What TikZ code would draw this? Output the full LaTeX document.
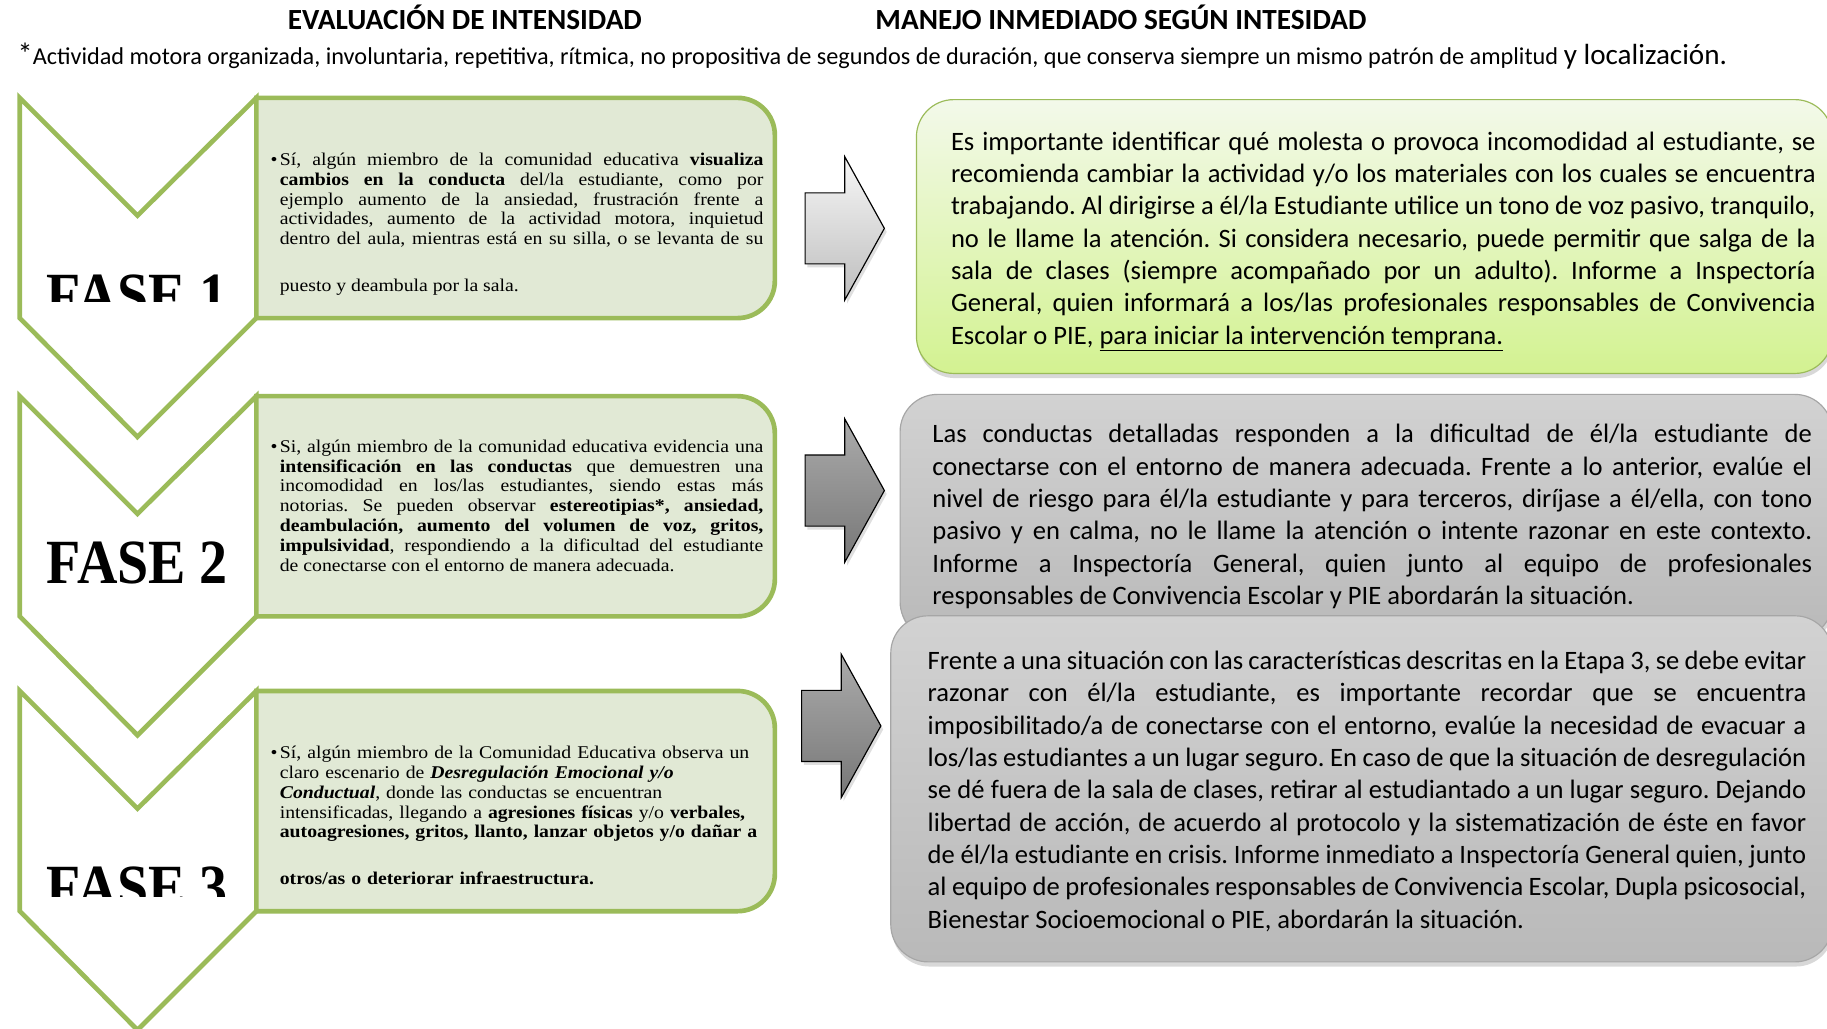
\documentclass[tikz,border=0pt]{standalone}
\usepackage{fontspec}
\usepackage{xcolor}
\usepackage{tikz}
\usetikzlibrary{shadows}
\newfontfamily\manejofont{Carlito}
\newfontfamily\evalfont[FakeStretch=1.1]{Liberation Serif}
\newfontfamily\fasefont[FakeStretch=0.89]{Liberation Serif}
\definecolor{fasegreen}{HTML}{9BBB59}
\definecolor{fasefill}{HTML}{E1E9D5}
\definecolor{verdeclaro}{HTML}{F3F9EA}
\definecolor{verdelima}{HTML}{D3F291}
\definecolor{grisborde}{HTML}{A6A6A6}
\definecolor{grisalto}{HTML}{D2D2D2}
\definecolor{grisbajo}{HTML}{B9B9B9}
\definecolor{flechaclara}{HTML}{F7F7F7}
\definecolor{flechaclarab}{HTML}{BDBDBD}
\definecolor{flechaoscura}{HTML}{ABABAB}
\definecolor{flechaoscurab}{HTML}{777777}
\hyphenpenalty=10000
\exhyphenpenalty=10000
\tolerance=9999
\frenchspacing

\tikzset{
  chevron/.style={draw=fasegreen, line width=4pt, fill=white},
  evalbox/.style={draw=fasegreen, line width=4pt, fill=fasefill},
  evaltext/.style={anchor=north west, inner sep=0pt, text width=423pt, font=\evalfont\fontsize{15.4}{17}\selectfont},
  fasetext/.style={anchor=base, inner sep=0pt, font=\fasefont\bfseries\fontsize{54}{54}\selectfont},
  manejobox/.style={rectangle, anchor=north west, inner sep=0pt, rounded corners=32pt, line width=1pt, drop shadow={shadow xshift=1pt, shadow yshift=-4pt, opacity=.3}},
  manejotext/.style={anchor=west, inner sep=0pt, align=justify, font=\manejofont\fontsize{22.8}{27.75}\selectfont},
  flecha/.style={draw=black, line width=1pt, drop shadow={shadow xshift=2pt, shadow yshift=-3pt, opacity=.25}},
  titulo/.style={anchor=base, inner sep=0pt, font=\manejofont\bfseries\fontsize{25.1}{27}\selectfont}
}
\newcommand{\vineta}{\leftskip=8pt\noindent\hspace*{-8pt}\makebox[8pt][l]{\textbullet}\strut}

\begin{document}
\begin{tikzpicture}[x=1pt, y=-1pt]
  \useasboundingbox (0,0) rectangle (1568,883);
  \fill[white] (0,0) rectangle (1568,883);

  % Títulos y nota
  \node[titulo] (evaluacion) at (399,25) {EVALUACIÓN DE INTENSIDAD};
  \node[titulo] (manejo) at (962,25) {MANEJO INMEDIADO SEGÚN INTESIDAD};
  \node[anchor=base west, inner sep=0pt, font=\manejofont\fontsize{20.8}{22}\selectfont] (nota) at (15,55.5)
    {{\fontsize{26}{26}\selectfont *}Actividad motora organizada, involuntaria, repetitiva, rítmica, no propositiva de segundos de duración, que conserva siempre un mismo patrón de amplitud {\fontsize{25}{25}\selectfont y localización.}};

  % Fases: chevron, recuadro verde y etiqueta
  \foreach \t/\b/\c [count=\i] in {84/272/259, 340/501/560, 593/780/769} {
    \draw[chevron] (17,\t) -- (118,\t+101) -- (220,\t) -- (220,\t+189) -- (118,\t+291) -- (17,\t+189) -- cycle;
    \draw[evalbox] (220,\t) -- (633,\t) .. controls (650.7,\t) and (665,\t+14.3) .. (665,\t+32)
      -- (665,\t+157) .. controls (665,\t+174.7) and (650.7,\t+189) .. (633,\t+189) -- (220,\t+189) -- cycle;
    \begin{scope}
      \clip (17,\t) rectangle (220,\c);
      \node[fasetext] (fase\i) at (118,\b) {FASE \i};
    \end{scope}
  }

  % Textos de evaluación
  \node[evaltext, align=justify] (eval1) at (232,130)
    {\vineta Sí, algún miembro de la comunidad educativa \textbf{visualiza}\linebreak
     \textbf{cambios en la conducta} del/la estudiante, como por\linebreak
     ejemplo aumento de la ansiedad, frustración frente a\linebreak
     actividades, aumento de la actividad motora, inquietud\linebreak
     dentro del aula, mientras está en su silla, o se levanta de su\vspace{23pt}\linebreak
     puesto y deambula por la sala.\par};
  \node[evaltext, align=justify] (eval2) at (232,376)
    {\vineta Si, algún miembro de la comunidad educativa evidencia una\linebreak
     \textbf{intensificación en las conductas} que demuestren una\linebreak
     incomodidad en los/las estudiantes, siendo estas más\linebreak
     notorias. Se pueden observar \textbf{estereotipias*, ansiedad,}\linebreak
     \textbf{deambulación, aumento del volumen de voz, gritos,}\linebreak
     \textbf{impulsividad}, respondiendo a la dificultad del estudiante\linebreak
     de conectarse con el entorno de manera adecuada.\par};
  \node[evaltext, align=left] (eval3) at (232,639)
    {\vineta Sí, algún miembro de la Comunidad Educativa observa un\\
     claro escenario de \textbf{\textit{Desregulación Emocional y/o}}\\
     \textbf{\textit{Conductual}}, donde las conductas se encuentran\\
     intensificadas, llegando a \textbf{agresiones físicas} y/o \textbf{verbales,}\\
     \textbf{autoagresiones, gritos, llanto, lanzar objetos y/o dañar a}\\[23pt]
     \textbf{otros/as o deteriorar infraestructura.}\par};

  % Flechas de bloque
  \foreach \cx/\cy/\arriba/\abajo in {691/196/flechaclara/flechaclarab, 691/421/flechaoscura/flechaoscurab, 688/623/flechaoscura/flechaoscurab}
    \draw[flecha, top color=\arriba, bottom color=\abajo] (\cx,\cy-30.5) -- ++(34,0) -- ++(0,-31) -- (\cx+68,\cy)
      -- (\cx+34,\cy+61.5) -- ++(0,-31) -- (\cx,\cy+30.5) -- cycle;

  % Recuadros de manejo
  \node[manejobox, draw=fasegreen, top color=verdeclaro, bottom color=verdelima, minimum width=786pt, minimum height=235pt] (manejo1) at (786,85) {};
  \node[manejobox, draw=grisborde, top color=grisalto, bottom color=grisbajo, minimum width=800pt, minimum height=210pt] (manejo2) at (772,338) {};
  \node[manejobox, draw=grisborde, top color=grisalto, bottom color=grisbajo, minimum width=808pt, minimum height=297pt] (manejo3) at (764,528) {};

  \node[manejotext, text width=742pt] (texto1) at (816,206.5)
    {\strut Es importante identificar qué molesta o provoca incomodidad al estudiante, se\linebreak
     recomienda cambiar la actividad y/o los materiales con los cuales se encuentra\linebreak
     trabajando. Al dirigirse a él/la Estudiante utilice un tono de voz pasivo, tranquilo,\linebreak
     no le llame la atención. Si considera necesario, puede permitir que salga de la\linebreak
     sala de clases (siempre acompañado por un adulto). Informe a Inspectoría\linebreak
     General, quien informará a los/las profesionales responsables de Convivencia\linebreak
     Escolar o PIE, \underline{para iniciar la intervención temprana.}\strut};
  \node[manejotext, text width=755pt] (texto2) at (800,444)
    {\strut Las conductas detalladas responden a la dificultad de él/la estudiante de\linebreak
     conectarse con el entorno de manera adecuada. Frente a lo anterior, evalúe el\linebreak
     nivel de riesgo para él/la estudiante y para terceros, diríjase a él/ella, con tono\linebreak
     pasivo y en calma, no le llame la atención o intente razonar en este contexto.\linebreak
     Informe a Inspectoría General, quien junto al equipo de profesionales\linebreak
     responsables de Convivencia Escolar y PIE abordarán la situación.\strut};
  \node[manejotext, text width=754pt] (texto3) at (796,680)
    {\strut Frente a una situación con las características descritas en la Etapa 3, se debe evitar\linebreak
     razonar con él/la estudiante, es importante recordar que se encuentra\linebreak
     imposibilitado/a de conectarse con el entorno, evalúe la necesidad de evacuar a\linebreak
     los/las estudiantes a un lugar seguro. En caso de que la situación de desregulación\linebreak
     se dé fuera de la sala de clases, retirar al estudiantado a un lugar seguro. Dejando\linebreak
     libertad de acción, de acuerdo al protocolo y la sistematización de éste en favor\linebreak
     de él/la estudiante en crisis. Informe inmediato a Inspectoría General quien, junto\linebreak
     al equipo de profesionales responsables de Convivencia Escolar, Dupla psicosocial,\linebreak
     Bienestar Socioemocional o PIE, abordarán la situación.\strut};
\end{tikzpicture}
\end{document}
